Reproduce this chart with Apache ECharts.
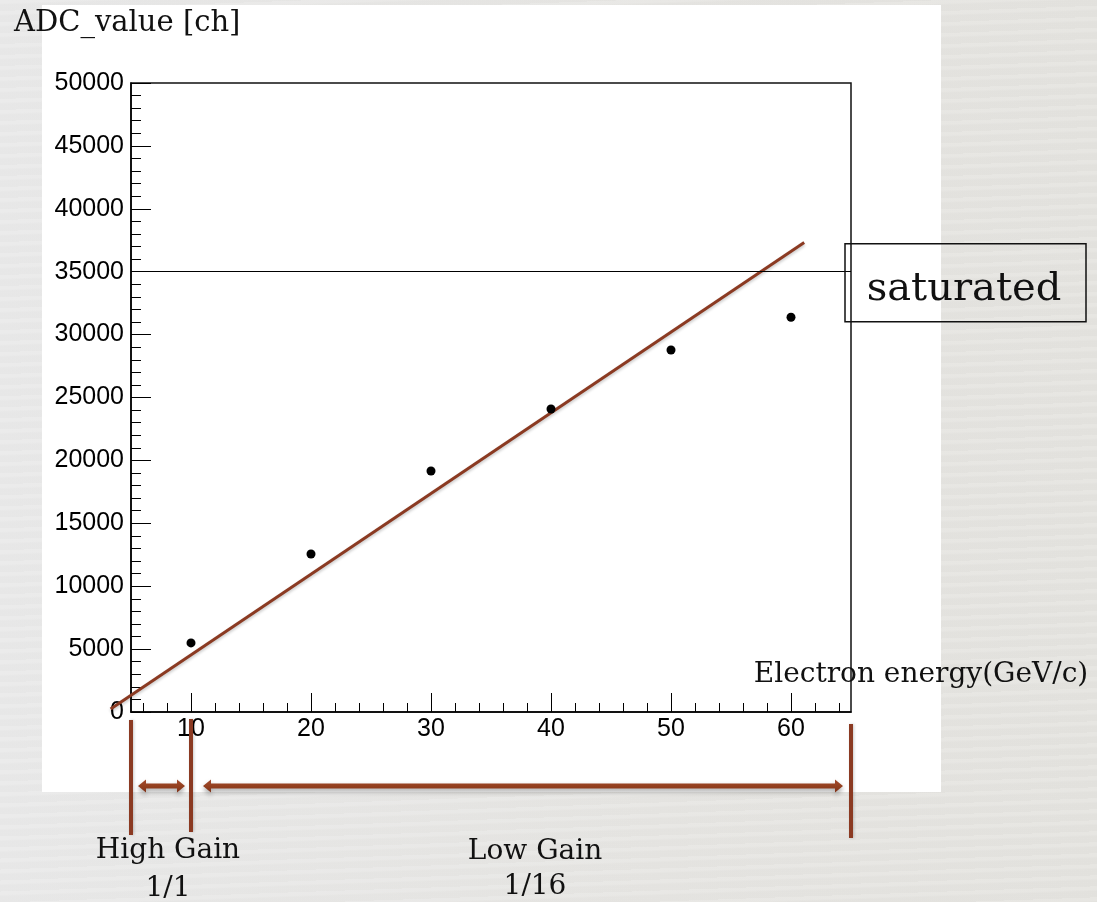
<!DOCTYPE html>
<html>
<head>
<meta charset="utf-8">
<script src="https://cdn.jsdelivr.net/npm/echarts@6/dist/echarts.min.js"></script>
<style>
  html, body { margin: 0; padding: 0; }
  body {
    width: 1097px; height: 902px; overflow: hidden;
    background-color: #e7e6e3;
    background-image:
      repeating-linear-gradient(178deg, rgba(255,255,255,0.10) 0px, rgba(255,255,255,0.10) 3px, rgba(0,0,0,0.006) 5px, rgba(0,0,0,0.006) 11px),
      linear-gradient(90deg, #e9e9e9 0%, #e6e5e2 60%, #e4e3df 100%);
  }
  #chart { width: 1097px; height: 902px; }
</style>
</head>
<body>
<div id="chart"></div>
<script>
// Measured ADC response of the calorimeter versus beam electron energy
const energies = [10, 20, 30, 40, 50, 60];
const adcValues = [5490, 12560, 19160, 24090, 28780, 31380];

// Linear fit, drawn between its two end points
const fitLine = [[3.3, 231], [61.1, 37316]];

// ADC saturation level
const saturationLevel = 35000;

// Axis ticks
const xMajorTicks = [10, 20, 30, 40, 50, 60];
const xMinorTicks = [6, 8, 12, 14, 16, 18, 22, 24, 26, 28, 32, 34, 36, 38,
                     42, 44, 46, 48, 52, 54, 56, 58, 62, 64];

// Gain ranges along the energy axis
const gainBounds = [5, 10, 65];
const gainNames = ['High Gain', 'Low Gain'];
const gainRatios = ['1/1', '1/16'];

const X_MIN = 5, X_MAX = 65, Y_MIN = 0, Y_MAX = 50000;
const RED = '#8b3a22';
const SERIF = '"DejaVu Serif", "Liberation Serif", serif';
const SANS = '"Liberation Sans", Arial, Helvetica, sans-serif';

const chart = echarts.init(document.getElementById('chart'), null, { renderer: 'canvas' });

const option = {
  backgroundColor: 'transparent',
  animation: false,
  grid: {
    left: 131, right: 246, top: 83, bottom: 190,
    show: true, borderColor: '#111', borderWidth: 1.5, backgroundColor: 'transparent'
  },
  xAxis: [
    {
      type: 'value', min: X_MIN, max: X_MAX, position: 'bottom',
      axisLine: { show: true, onZero: false, lineStyle: { color: '#000', width: 1.5 } },
      axisTick: { show: true, inside: true, length: 19, customValues: xMajorTicks,
                  lineStyle: { color: '#000', width: 1 } },
      axisLabel: { show: true, customValues: xMajorTicks, margin: 5,
                   color: '#000', fontFamily: SANS, fontSize: 25 },
      splitLine: { show: false }
    },
    {
      type: 'value', min: X_MIN, max: X_MAX, position: 'bottom', offset: 0,
      axisLine: { show: false },
      axisTick: { show: true, inside: true, length: 9, customValues: xMinorTicks,
                  lineStyle: { color: '#000', width: 1 } },
      axisLabel: { show: false },
      splitLine: { show: false }
    }
  ],
  yAxis: {
    type: 'value', min: Y_MIN, max: Y_MAX, interval: 5000,
    axisLine: { show: true, onZero: false, lineStyle: { color: '#000', width: 1.5 } },
    axisTick: { show: true, inside: true, length: 20, lineStyle: { color: '#000', width: 1 } },
    minorTick: { show: true, splitNumber: 5, length: 10, lineStyle: { color: '#000', width: 1 } },
    axisLabel: { color: '#000', fontFamily: SANS, fontSize: 25, margin: 7,
                 formatter: v => String(v) },
    splitLine: { show: false }
  },
  series: [
    {
      name: 'saturation', type: 'line', data: [], silent: true,
      markLine: {
        silent: true, symbol: 'none', animation: false,
        label: { show: false },
        lineStyle: { color: '#000', width: 1, type: 'solid' },
        data: [{ yAxis: saturationLevel }]
      }
    },
    {
      name: 'ADC', type: 'scatter', data: energies.map((e, i) => [e, adcValues[i]]),
      symbol: 'circle', symbolSize: 9, z: 5,
      itemStyle: { color: '#000', opacity: 1 }
    }
  ]
};

chart.setOption(option);

// Annotations placed from the axis scale
const px = v => chart.convertToPixel({ xAxisIndex: 0 }, v);
const py = v => chart.convertToPixel({ yAxisIndex: 0 }, v);

const xb = gainBounds.map(px);
const yTop = py(Y_MAX), yBottom = py(Y_MIN);

// fit line runs past the left edge of the frame, so it is drawn unclipped
const fitPts = fitLine.map(p => [px(p[0]), py(p[1])]);

function doubleArrow(x1, x2, yc) {
  const t = 2.6, h = 6.5, hl = 8;
  return [[x1, yc], [x1 + hl, yc - h], [x1 + hl, yc - t], [x2 - hl, yc - t], [x2 - hl, yc - h],
          [x2, yc], [x2 - hl, yc + h], [x2 - hl, yc + t], [x1 + hl, yc + t], [x1 + hl, yc + h]];
}
const arrowFill = new echarts.graphic.LinearGradient(0, 0, 0, 1, [
  { offset: 0, color: '#a34a2e' }, { offset: 0.5, color: '#94401f' }, { offset: 1, color: '#7e3219' }
]);
const arrowShadow = { shadowColor: 'rgba(0,0,0,0.35)', shadowBlur: 5, shadowOffsetY: 3 };

const arrowY = yBottom + 74;
const markerStyle = { stroke: RED, lineWidth: 4, shadowColor: 'rgba(0,0,0,0.2)', shadowBlur: 3, shadowOffsetX: 1 };

const graphics = [
  // white plotting panel
  { type: 'rect', z: -10, silent: true, shape: { x: 42, y: 5, width: 899, height: 787 },
    style: { fill: '#ffffff' } },
  // fitted line
  { type: 'line', z: 4, silent: true,
    shape: { x1: fitPts[0][0], y1: fitPts[0][1], x2: fitPts[1][0], y2: fitPts[1][1] },
    style: { stroke: RED, lineWidth: 3, shadowColor: 'rgba(0,0,0,0.22)', shadowBlur: 3, shadowOffsetY: 2 } },
  // axis titles
  { type: 'text', z: 10, x: 14, y: yTop - 60,
    style: { text: 'ADC_value [ch]', font: '29px ' + SERIF, fill: '#111', align: 'left', verticalAlign: 'middle' } },
  { type: 'text', z: 10, x: 921, y: yBottom - 37,
    style: { text: 'Electron energy(GeV/c)', font: '28px ' + SERIF, fill: '#111', align: 'center', verticalAlign: 'middle' } },
  // saturation tag
  { type: 'rect', z: 10, shape: { x: 845, y: py(saturationLevel) - 28, width: 241, height: 78 },
    style: { fill: 'none', stroke: '#111', lineWidth: 1.5 } },
  { type: 'text', z: 10, x: 964, y: py(saturationLevel) + 18,
    style: { text: 'saturated', font: '40px ' + SERIF, fill: '#111', align: 'center', verticalAlign: 'middle' } },
  // gain range markers
  { type: 'line', z: 10, shape: { x1: xb[0], y1: yBottom + 8, x2: xb[0], y2: yBottom + 123 }, style: markerStyle },
  { type: 'line', z: 10, shape: { x1: xb[1], y1: yBottom + 7, x2: xb[1], y2: yBottom + 120 }, style: markerStyle },
  { type: 'line', z: 10, shape: { x1: xb[2], y1: yBottom + 12, x2: xb[2], y2: yBottom + 126 }, style: markerStyle },
  { type: 'polygon', z: 10, shape: { points: doubleArrow(xb[0] + 7, xb[1] - 6, arrowY) },
    style: Object.assign({ fill: arrowFill }, arrowShadow) },
  { type: 'polygon', z: 10, shape: { points: doubleArrow(xb[1] + 12, xb[2] - 8, arrowY) },
    style: Object.assign({ fill: arrowFill }, arrowShadow) },
  // gain labels
  { type: 'text', z: 10, x: (xb[0] + xb[1]) / 2 + 7, y: 851,
    style: { text: gainNames[0], font: '28px ' + SERIF, fill: '#111', align: 'center', verticalAlign: 'middle' } },
  { type: 'text', z: 10, x: (xb[0] + xb[1]) / 2 + 7, y: 889,
    style: { text: gainRatios[0], font: '28px ' + SERIF, fill: '#111', align: 'center', verticalAlign: 'middle' } },
  { type: 'text', z: 10, x: 535, y: 852,
    style: { text: gainNames[1], font: '28px ' + SERIF, fill: '#111', align: 'center', verticalAlign: 'middle' } },
  { type: 'text', z: 10, x: 535, y: 887,
    style: { text: gainRatios[1], font: '28px ' + SERIF, fill: '#111', align: 'center', verticalAlign: 'middle' } }
];

chart.setOption({ graphic: graphics });
</script>
</body>
</html>
